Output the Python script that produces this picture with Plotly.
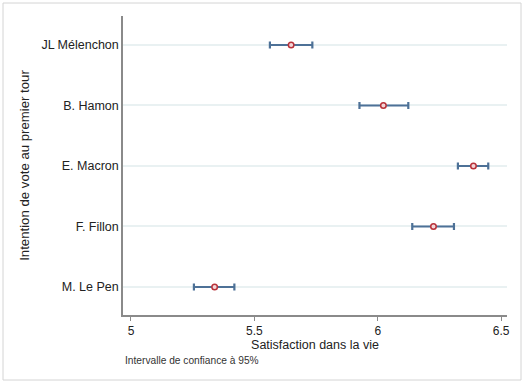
import plotly.graph_objects as go

candidates = ["M. Le Pen", "F. Fillon", "E. Macron", "B. Hamon", "JL Mélenchon"]
means = [5.339, 6.226, 6.388, 6.023, 5.649]
ci_low = [5.255, 6.140, 6.325, 5.926, 5.563]
ci_high = [5.419, 6.309, 6.448, 6.124, 5.735]
x_ticks = [5, 5.5, 6, 6.5]
x_tick_labels = ["5", "5.5", "6", "6.5"]

err_plus = [h - m for h, m in zip(ci_high, means)]
err_minus = [m - l for m, l in zip(means, ci_low)]

fig = go.Figure()
fig.add_trace(go.Scatter(
    x=means, y=candidates, mode="markers",
    marker=dict(symbol="circle", size=5.5, color="#f3d6d8",
                line=dict(color="#b8323a", width=1.5)),
    error_x=dict(type="data", symmetric=False, array=err_plus, arrayminus=err_minus,
                 color="#4d7197", thickness=2.2, width=3.5),
    showlegend=False,
))

font = "Liberation Sans, Arial, sans-serif"
fig.update_layout(
    width=524, height=383,
    margin=dict(l=123, r=17, t=16, b=68),
    paper_bgcolor="white", plot_bgcolor="white",
    font=dict(family=font, size=12, color="#222"),
    xaxis=dict(range=[4.9676, 6.524], tickvals=x_ticks, ticktext=x_tick_labels,
               showline=True, linecolor="#8a8a8a", linewidth=1.5,
               ticks="outside", ticklen=4, tickcolor="#8a8a8a",
               showgrid=False, zeroline=False, automargin=False,
               tickfont=dict(size=12, color="#222"),
               title=dict(text="Satisfaction dans la vie", standoff=1,
                          font=dict(size=12.5, color="#222"))),
    yaxis=dict(type="category", categoryorder="array", categoryarray=candidates,
               range=[-0.463, 4.479], automargin=False,
               showline=True, linecolor="#8a8a8a", linewidth=1.5,
               ticks="", showgrid=True, gridcolor="#e9f1f2", gridwidth=1.5,
               zeroline=False, ticklabelstandoff=0,
               tickfont=dict(size=12.5, color="#222"),
               title=dict(text="Intention de vote au premier tour", standoff=9,
                          font=dict(size=13.2, color="#222"))),
    shapes=[dict(type="rect", xref="paper", yref="paper",
                 x0=-120/384, x1=1 + 14/384, y0=-65/299, y1=1 + 13/299,
                 line=dict(color="#d4d4d4", width=1), fillcolor="rgba(0,0,0,0)",
                 layer="below")],
    annotations=[dict(text="Intervalle de confiance à 95%", xref="paper", yref="paper",
                      x=0, y=-(360 - 315) / 299, xanchor="left", yanchor="middle",
                      showarrow=False, font=dict(size=10.2, color="#333"))],
)

fig.write_html("out.html", config={"displayModeBar": False},
               post_script="document.body.style.margin='0';document.body.style.overflow='hidden';")
